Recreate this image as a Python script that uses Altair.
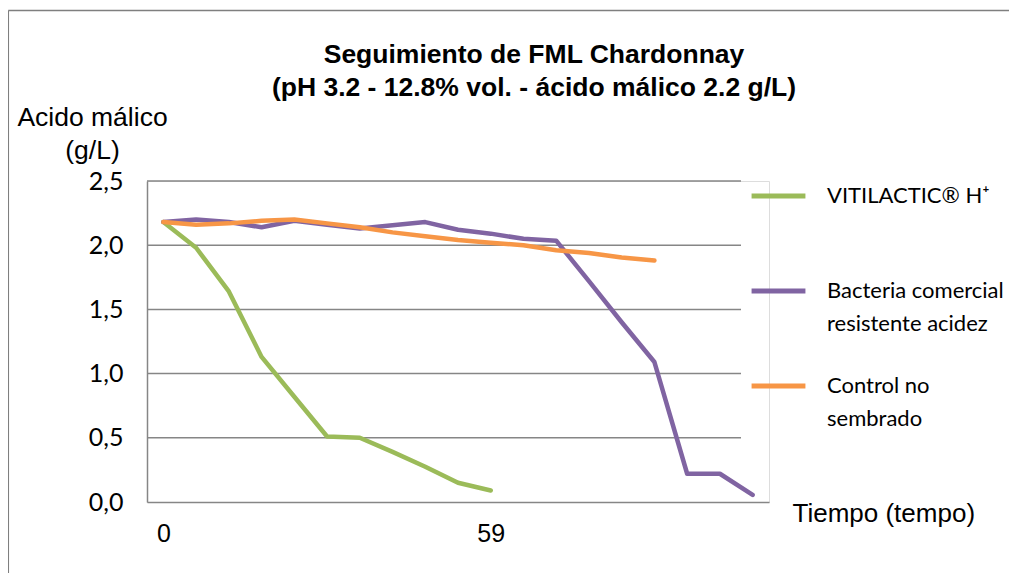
import json
import altair as alt
import pandas as pd

# ---- data ----
series_names = ["VITILACTIC® H⁺|", "Bacteria comercial|resistente acidez", "Control no|sembrado"]
series_colors = ["#9BBB59", "#8064A2", "#F79646"]

x_labels = ["0", "", "", "", "", "", "", "", "", "", "59", "", "", "", "", "", "", "", ""]

vitilactic = [2.18, 1.98, 1.64, 1.13, 0.82, 0.51, 0.50, 0.39, 0.275, 0.15, 0.09]
bacteria = [2.18, 2.20, 2.18, 2.14, 2.19, 2.16, 2.13, 2.155, 2.18, 2.12, 2.09,
            2.05, 2.035, 1.72, 1.40, 1.09, 0.22, 0.22, 0.055]
control = [2.18, 2.16, 2.17, 2.19, 2.20, 2.17, 2.14, 2.10, 2.07, 2.04, 2.02,
           2.00, 1.96, 1.94, 1.905, 1.88]

y_ticks = [0.0, 0.5, 1.0, 1.5, 2.0, 2.5]
grid_values = [0.5, 1.0, 1.5, 2.0, 2.5]

rows = []
for name, vals in zip(series_names, [vitilactic, bacteria, control]):
    for i, v in enumerate(vals):
        rows.append({"serie": name, "idx": i, "valor": v})
df = pd.DataFrame(rows)
grid_df = pd.DataFrame({"g": grid_values})
frame_df = pd.DataFrame({"k": [0]})

GRAY = "#868686"
PW, PH = 622, 321

x_enc = alt.X(
    "idx:O",
    scale=alt.Scale(type="point", padding=0.5, domain=list(range(len(x_labels)))),
    axis=alt.Axis(
        title="Tiempo (tempo)",
        labelExpr=json.dumps(x_labels) + "[datum.value]",
        labelAngle=0,
        labelFont="Liberation Sans",
        labelFontSize=25,
        labelColor="#000000",
        labelPadding=19,
        labelBaseline="top",
        ticks=False,
        grid=False,
        domainColor=GRAY,
        domainWidth=1.5,
        titleFont="Liberation Sans",
        titleFontSize=26,
        titleFontWeight="normal",
        titleColor="#000000",
        titleAngle=0,
        titleAlign="left",
        titleBaseline="middle",
        titleX=645,
        titleY=11,
    ),
)

y_enc = alt.Y(
    "valor:Q",
    scale=alt.Scale(domain=[0, 2.5], nice=False, zero=True),
    axis=alt.Axis(
        values=y_ticks,
        labelExpr="replace(format(datum.value, '.1f'), '.', ',')",
        labelFont="Lato",
        labelFontSize=25,
        labelColor="#000000",
        labelPadding=24,
        ticks=False,
        grid=False,
        domainColor=GRAY,
        domainWidth=1.5,
        title=["Acido málico", "(g/L)"],
        titleFont="Liberation Sans",
        titleFontSize=26.5,
        titleFontWeight="normal",
        titleColor="#000000",
        titleAngle=0,
        titleAlign="center",
        titleBaseline="top",
        titleLineHeight=33,
        titleX=-55,
        titleY=-77,
    ),
)

grid = alt.Chart(grid_df).mark_rule(color=GRAY, strokeWidth=1.5).encode(
    y=alt.Y("g:Q", scale=alt.Scale(domain=[0, 2.5], nice=False)),
    x=alt.value(0),
    x2=alt.value(594),
)

lines = alt.Chart(df).mark_line(strokeWidth=4.5, strokeCap="round", strokeJoin="round").encode(
    x=x_enc,
    y=y_enc,
    color=alt.Color(
        "serie:N",
        scale=alt.Scale(domain=series_names, range=series_colors),
        legend=alt.Legend(
            title=None,
            orient="none",
            legendX=602,
            legendY=-15,
            symbolType="stroke",
            symbolSize=2900,
            symbolStrokeWidth=5,
            labelFont="Lato",
            labelFontSize=22,
            labelColor="#000000",
            labelBaseline="middle",
            labelOffset=19,
            labelLimit=300,
            labelExpr="split(datum.label, '|')",
            clipHeight=60,
            rowPadding=21,
            padding=0,
        ),
    ),
    order="idx:O",
)

frame_v = alt.Chart(frame_df).mark_rule(color="#7f7f7f", strokeWidth=1.5).encode(
    x=alt.value(-138.7), y=alt.value(-170.5), y2=alt.value(392)
)
frame_h = alt.Chart(frame_df).mark_rule(color="#7f7f7f", strokeWidth=1.5).encode(
    x=alt.value(-138.7), x2=alt.value(862), y=alt.value(-170.5)
)

chart = (
    alt.layer(grid, lines, frame_v, frame_h)
    .resolve_scale(y="shared")
    .properties(
        width=PW,
        height=PH,
        autosize=alt.AutoSizeParams(type="none"),
        padding={"left": 139, "top": 173, "right": 240, "bottom": 71},
        title=alt.TitleParams(
            text=["Seguimiento de FML Chardonnay", "(pH 3.2 - 12.8% vol. - ácido málico 2.2 g/L)"],
            font="Liberation Sans",
            fontSize=26.5,
            fontWeight="bold",
            color="#000000",
            lineHeight=33,
            anchor="middle",
            frame="group",
            dx=76,
            dy=92,
            offset=0,
        ),
    )
    .configure_view(stroke=None)
    .configure(background="white", style={"guide-label": {"lineHeight": 33}})
)

chart.save("out.html", embed_options={"renderer": "svg", "actions": False})
